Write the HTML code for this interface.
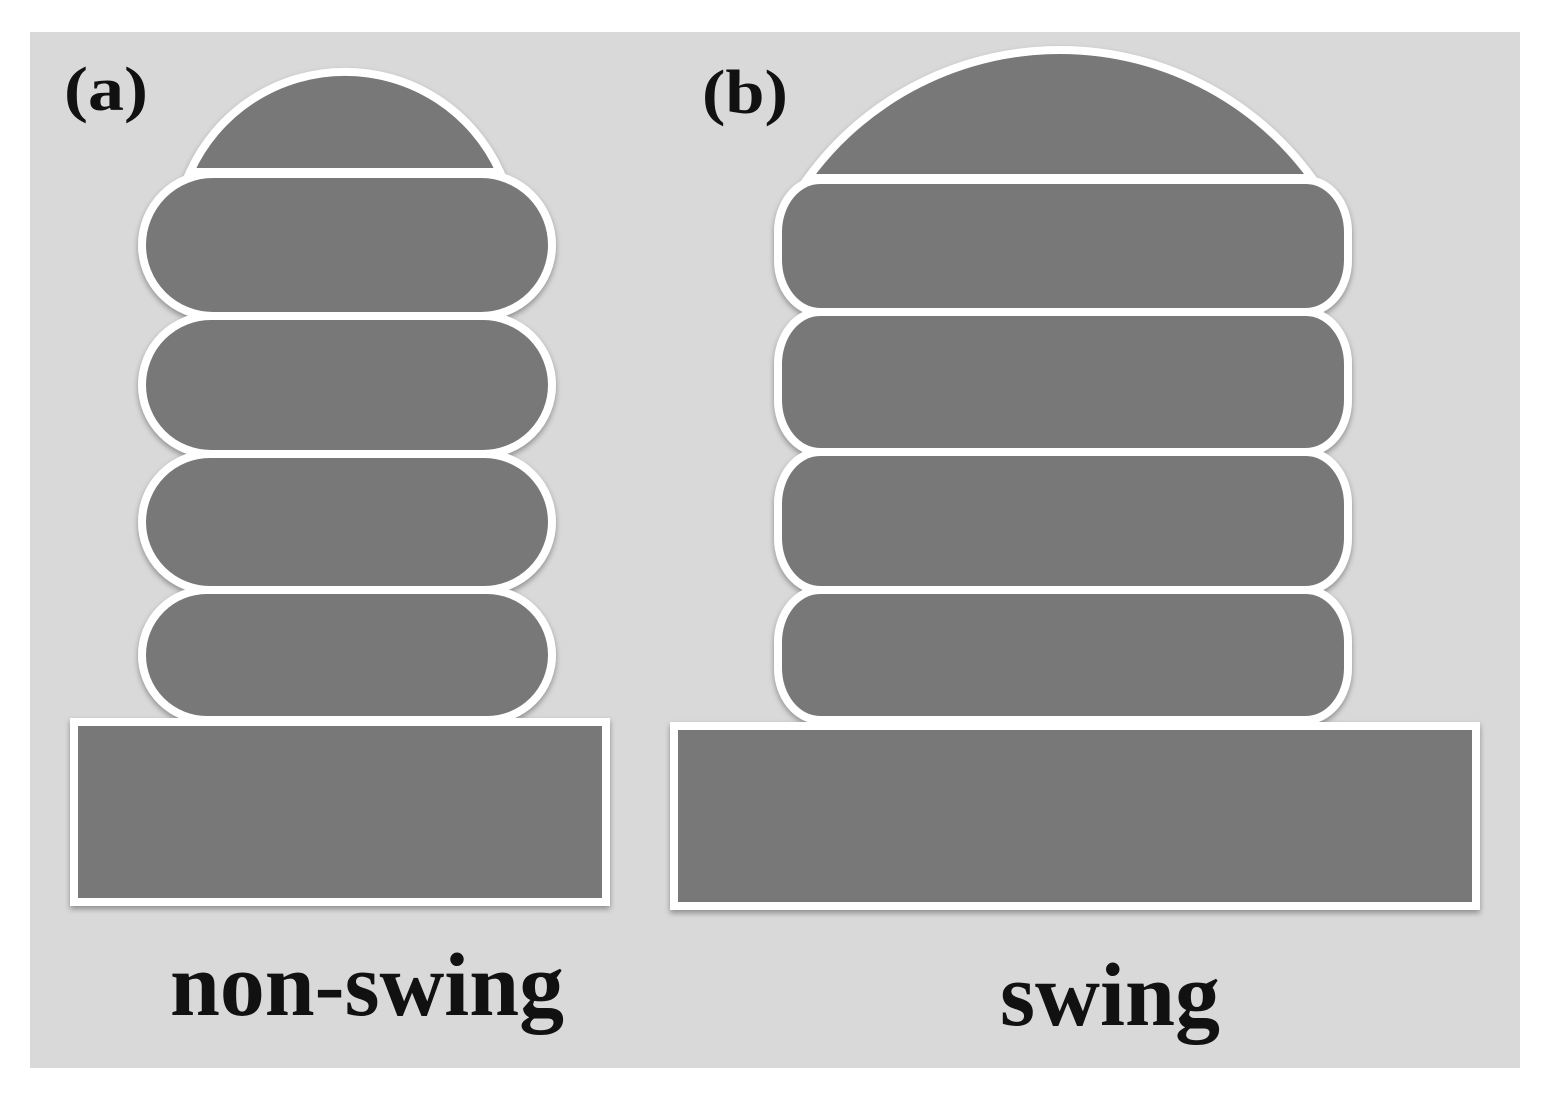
<!DOCTYPE html>
<html><head><style>html,body{margin:0;padding:0;background:#fff}svg{display:block}</style></head>
<body>
<svg width="1547" height="1107" viewBox="0 0 1547 1107" xmlns="http://www.w3.org/2000/svg">
<defs>
<filter id="sh" x="-10%" y="-10%" width="120%" height="130%"><feDropShadow dx="0" dy="3" stdDeviation="3" flood-color="#000" flood-opacity="0.35"/></filter>
</defs>
<rect x="30" y="32" width="1490" height="1036" fill="#d9d9d9"/>
<g fill="#787878" stroke="#fff" stroke-width="8" filter="url(#sh)">
<!-- left -->
<path d="M190,172 A170,170 0 0 1 500,172 Z"/>
<rect x="142" y="174" width="410" height="142" rx="71" ry="71"/>
<rect x="142" y="316" width="410" height="138" rx="69" ry="69"/>
<rect x="142" y="454" width="410" height="136" rx="68" ry="68"/>
<rect x="142" y="590" width="410" height="130" rx="65" ry="65"/>
<rect x="74" y="722" width="532" height="180"/>
<!-- right -->
<path d="M808,178 A312,312 0 0 1 1312,178 Z"/>
<rect x="778" y="180" width="570" height="132" rx="42" ry="52"/>
<rect x="778" y="312" width="570" height="140" rx="42" ry="52"/>
<rect x="778" y="452" width="570" height="138" rx="42" ry="52"/>
<rect x="778" y="590" width="570" height="130" rx="42" ry="52"/>
<rect x="674" y="726" width="802" height="180"/>
</g>
<g font-family="'Liberation Serif',serif" font-weight="bold" fill="#111">
<text x="64" y="110" font-size="62" textLength="84" lengthAdjust="spacingAndGlyphs">(a)</text>
<text x="702" y="113" font-size="62" textLength="86" lengthAdjust="spacingAndGlyphs">(b)</text>
<text x="170" y="1015" font-size="90" textLength="394" lengthAdjust="spacingAndGlyphs">non-swing</text>
<text x="1000" y="1025" font-size="90" textLength="220" lengthAdjust="spacingAndGlyphs">swing</text>
</g>
</svg>
</body></html>
